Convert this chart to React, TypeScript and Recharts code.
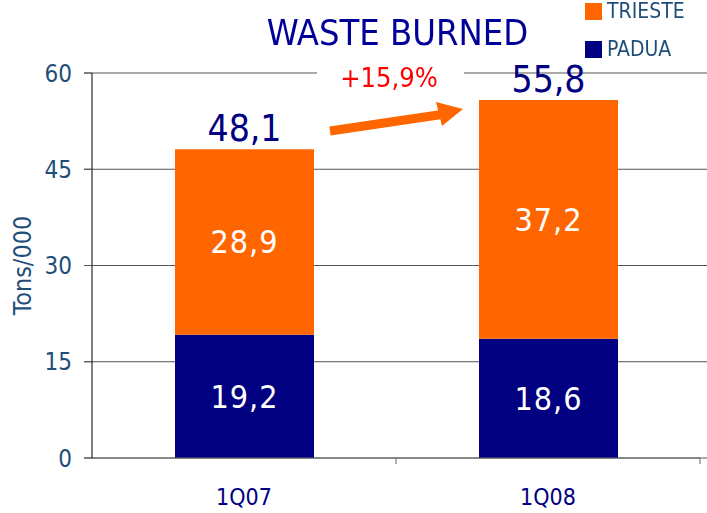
import { Bar, BarChart, CartesianGrid, LabelList, XAxis, YAxis } from "recharts";

const quarters = ["1Q07", "1Q08"];
const padua = [19.2, 18.6];
const trieste = [28.9, 37.2];
const totals = [48.1, 55.8];
const yTicks = [0, 15, 30, 45, 60];
const growth = "+15,9%";

const ORANGE = "#FF6600";
const NAVY = "#000080";
const AXIS_BLUE = "#1F4E79";
const FONT = "'DejaVu Sans Condensed', 'Liberation Sans Narrow', sans-serif";

const W = 707;
const H = 513;
const M = { top: 73, right: 7, bottom: 0, left: 0 };
const X_H = 55;
const Y_W = 92;

const data = quarters.map((q, i) => ({
  quarter: q,
  padua: padua[i],
  trieste: trieste[i],
  total: totals[i],
}));

const fmt = (v: number) => v.toFixed(1).replace(".", ",");

const bandHalf = (W - M.right - Y_W) / quarters.length / 2;

function XTick(props: any) {
  const { x, y, payload } = props;
  return (
    <g>
      <line x1={x + bandHalf} x2={x + bandHalf} y1={y - 8} y2={y - 2} stroke="#666" />
      <text x={x} y={y + 39} textAnchor="middle" fill={NAVY} fontSize={23} fontFamily={FONT}>
        {payload.value}
      </text>
    </g>
  );
}

function GridLine(props: any) {
  const { x1, x2, y1, y2 } = props;
  return <line x1={x1 - 8} x2={x2 + 7} y1={y1} y2={y2} stroke="#555" strokeWidth={1} />;
}

function LegendBox() {
  const items = [
    { label: "TRIESTE", color: ORANGE },
    { label: "PADUA", color: NAVY },
  ];
  return (
    <div style={{ position: "absolute", left: 585, top: -8 }}>
      {items.map((it) => (
        <div key={it.label} style={{ display: "flex", alignItems: "center", height: 38 }}>
          <span style={{ width: 17, height: 17, background: it.color, marginRight: 5 }} />
          <span style={{ color: AXIS_BLUE, fontSize: 21, fontFamily: FONT }}>{it.label}</span>
        </div>
      ))}
    </div>
  );
}

export default function App() {
  return (
    <div style={{ position: "fixed", left: 0, top: 0, width: W, height: H, background: "#fff" }}>
      <BarChart width={W} height={H} data={data} margin={M}>
        <CartesianGrid vertical={false} horizontal={(p: any) => <GridLine {...p} />} />
        <XAxis
          dataKey="quarter"
          tick={<XTick />}
          tickLine={false}
          axisLine={{ stroke: "#666" }}
          height={X_H}
        />
        <YAxis
          width={Y_W}
          domain={[0, 60]}
          ticks={yTicks}
          tickSize={8}
          tickMargin={12}
          axisLine={{ stroke: "#000" }}
          tickLine={{ stroke: "#555" }}
          tick={{ fill: AXIS_BLUE, fontSize: 24, fontFamily: FONT }}
          label={({ viewBox }: any) => (
            <text
              transform={`translate(22, ${viewBox.y + viewBox.height / 2}) rotate(-90)`}
              textAnchor="middle"
              dominantBaseline="central"
              fill={AXIS_BLUE}
              fontSize={25}
              fontFamily={FONT}
            >
              Tons/000
            </text>
          )}
        />
        <Bar dataKey="padua" stackId="a" fill={NAVY} barSize={139} isAnimationActive={false}>
          <LabelList
            dataKey="padua"
            position="center"
            formatter={(v: any) => fmt(Number(v))}
            fill="#fff"
            fontSize={32}
            letterSpacing={1}
            fontFamily={FONT}
          />
        </Bar>
        <Bar dataKey="trieste" stackId="a" fill={ORANGE} barSize={139} isAnimationActive={false}>
          <LabelList
            dataKey="trieste"
            position="center"
            formatter={(v: any) => fmt(Number(v))}
            fill="#fff"
            fontSize={32}
            letterSpacing={1}
            fontFamily={FONT}
          />
          <LabelList
            dataKey="total"
            position="top"
            offset={8}
            formatter={(v: any) => fmt(Number(v))}
            fill={NAVY}
            fontSize={37}
            fontFamily={FONT}
          />
        </Bar>
      </BarChart>
      <LegendBox />
      <div
        style={{
          position: "absolute",
          left: 0,
          width: W,
          top: 12,
          paddingLeft: 88,
          textAlign: "center",
          color: "#000099",
          fontSize: 36,
          fontFamily: FONT,
          boxSizing: "border-box",
        }}
      >
        WASTE BURNED
      </div>
      <svg style={{ position: "absolute", left: 0, top: 0, zIndex: 2 }} width={W} height={H}>
        <rect x={317} y={64} width={147} height={20} fill="#fff" />
        <text x={389} y={87} textAnchor="middle" fill="#FF0000" fontSize={27} fontFamily={FONT}>
          {growth}
        </text>
        <line x1={330} y1={131} x2={445} y2={114} stroke={ORANGE} strokeWidth={9} />
        <polygon points="436,102 463,109 442,126" fill={ORANGE} />
      </svg>
    </div>
  );
}
